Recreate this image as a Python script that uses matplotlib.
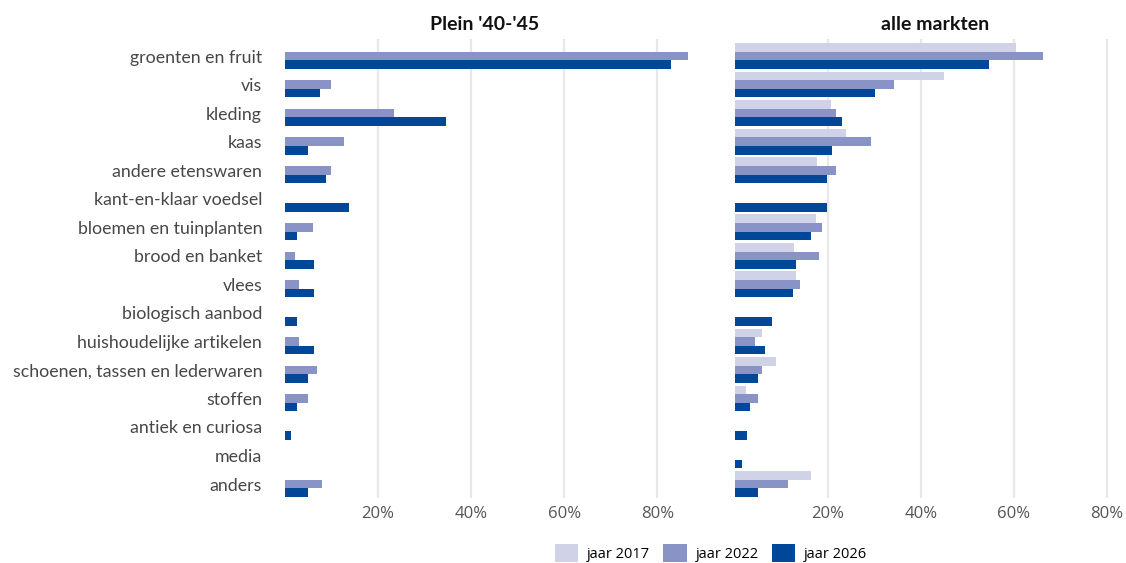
import numpy as np
import matplotlib
matplotlib.use("Agg")
import matplotlib.pyplot as plt
from matplotlib.patches import Patch

categories = ["groenten en fruit", "vis", "kleding", "kaas", "andere etenswaren",
              "kant-en-klaar voedsel", "bloemen en tuinplanten", "brood en banket",
              "vlees", "biologisch aanbod", "huishoudelijke artikelen",
              "schoenen, tassen en lederwaren", "stoffen", "antiek en curiosa",
              "media", "anders"]

nan = np.nan
# Plein '40-'45 (no 2017 data)
plein_2017 = [nan] * 16
plein_2022 = [86.6, 9.9, 23.4, 12.7, 9.9, nan, 6.0, 2.1, 3.0, nan, 3.0, 6.9, 4.9, nan, nan, 7.9]
plein_2026 = [82.9, 7.5, 34.6, 4.9, 8.8, 13.7, 2.6, 6.2, 6.2, 2.6, 6.2, 4.9, 2.6, 1.3, nan, 4.9]

# alle markten
alle_2017 = [60.5, 45.0, 20.7, 23.9, 17.7, nan, 17.5, 12.8, 13.2, nan, 5.9, 8.9, 2.4, nan, nan, 16.4]
alle_2022 = [66.3, 34.2, 21.8, 29.3, 21.8, nan, 18.8, 18.1, 14.0, nan, 4.4, 5.9, 5.0, nan, nan, 11.5]
alle_2026 = [54.6, 30.2, 23.1, 20.9, 19.8, 19.8, 16.4, 13.2, 12.5, 8.0, 6.5, 5.0, 3.3, 2.7, 1.6, 5.0]

series_labels = ["jaar 2017", "jaar 2022", "jaar 2026"]
colors = ["#d0d3e8", "#8a93c6", "#004699"]
ticks = [20, 40, 60, 80]
tick_labels = ["20%", "40%", "60%", "80%"]

W, H = 1126, 563
fig = plt.figure(figsize=(W / 100, H / 100), dpi=100)

bottom = 1 - 498 / H
height = (498 - 39) / H
px = 4.655  # pixels per percent
ax1 = fig.add_axes([285 / W, bottom, 88 * px / W, height])
ax2 = fig.add_axes([734.6 / W, bottom, 84 * px / W, height])

y = np.arange(len(categories))
bh = 0.3
offsets = [-bh, 0, bh]

for ax, data, xmax in [(ax1, [plein_2017, plein_2022, plein_2026], 88),
                       (ax2, [alle_2017, alle_2022, alle_2026], 84)]:
    for vals, off, c in zip(data, offsets, colors):
        v = np.array(vals, dtype=float)
        mask = ~np.isnan(v)
        ax.barh(y[mask] + off, v[mask], height=bh, color=c, zorder=3, linewidth=0)
    ax.set_xlim(0, xmax)
    ax.set_ylim(len(categories) - 0.51, -0.6)
    ax.set_xticks(ticks)
    ax.set_xticklabels(tick_labels, fontsize=12, color="#555555", family="Open Sans")
    ax.grid(axis="x", color="#e8e8e8", linewidth=1.6, zorder=0)
    ax.tick_params(axis="both", length=0, pad=6)
    for s in ax.spines.values():
        s.set_visible(False)

ax1.set_yticks(y)
ax1.set_yticklabels(categories, fontsize=12.8, color="#474747", family="Lato")
ax1.tick_params(axis="y", pad=16.5)
ax2.set_yticks([])

fig.text(485 / W, 1 - 25 / H, "Plein '40-'45", ha="center", va="center",
         fontsize=14, fontweight="bold", family="Lato", color="#111111")
fig.text(935 / W, 1 - 25 / H, "alle markten", ha="center", va="center",
         fontsize=14, fontweight="bold", family="Lato", color="#111111")

handles = [Patch(facecolor=c, edgecolor="none", label=l) for c, l in zip(colors, series_labels)]
fig.legend(handles=handles, loc="center", bbox_to_anchor=(711 / W, 1 - 553 / H),
           ncol=3, frameon=False, prop={"family": "Open Sans", "size": 10.5},
           handlelength=1.6, handleheight=1.6, handletextpad=0.6, columnspacing=0.9)

fig.savefig("out.png", dpi=100)
